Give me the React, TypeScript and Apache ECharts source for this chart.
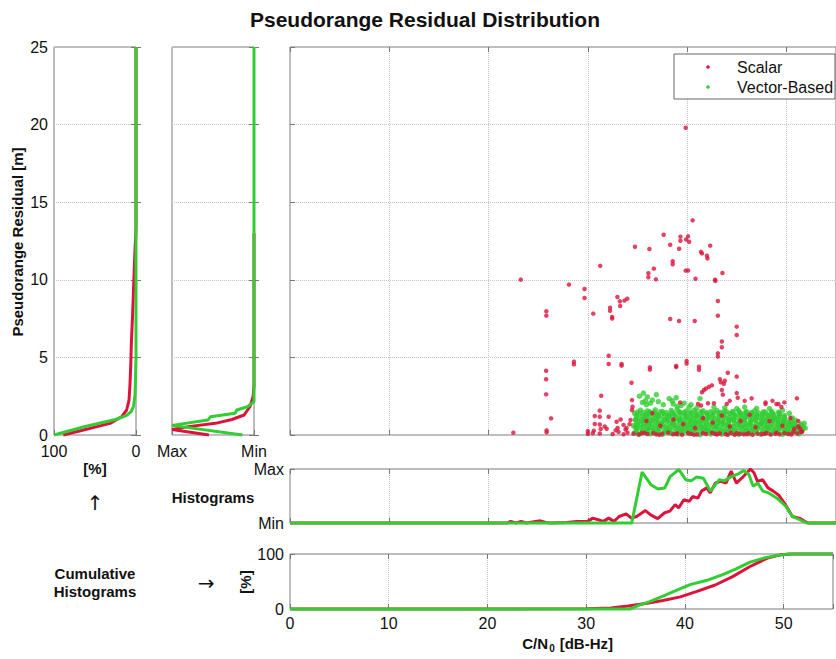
import React, { useEffect, useRef } from "react";
import * as echarts from "echarts";

const FONT = '"Liberation Sans", Arial, Helvetica, sans-serif';
const RED = "#dc143c";
const GREEN = "#32cd32";

// Left panel 1: cumulative histogram of residual [%] vs residual [m]
const cumResRed: number[][] = [[88.6,0],[64,0.32],[31.7,0.75],[17.5,1.18],[11.4,1.61],[8.5,2.25],[7.3,3.3],[6.4,4.5],[5.6,6.0],[4.1,7.8],[2.6,10.0],[1.2,12.0],[0.4,12.8],[0,13.3],[0,25]];
const cumResGreen: number[][] = [[100,0],[62,0.55],[25,1.0],[12,1.25],[6,1.5],[3,1.85],[1.2,2.6],[0.4,4.0],[0,5],[0,25]];

// Left panel 2: normalized histogram of residual vs residual [m]
const histResRed: number[][] = [[0.55,0],[1,0.35],[0.8,0.54],[0.47,0.75],[0.27,1.0],[0.12,1.29],[0.05,1.82],[0.01,2.5],[0,3.2],[0,13]];
const histResGreen: number[][] = [[0.14,0],[1,0.62],[0.56,0.97],[0.53,1.18],[0.23,1.4],[0.21,1.61],[0.08,1.82],[0,2.15],[0,25]];

// Bottom: normalized histogram vs C/N0
const histCnRed: number[][] = [[0,0],[21.87,0],[22.22,0.03],[22.75,0],[23.28,0.03],[23.81,0],[25.22,0.04],[25.75,0.01],[26.28,0],[27.87,0.01],[28.9,0.03],[29.98,0.03],[30.51,0.09],[31.04,0.06],[31.57,0.03],[32.1,0.09],[32.63,0.03],[33.16,0.12],[33.86,0.17],[34.39,0.09],[34.92,0.12],[35.8,0.23],[36.33,0.15],[37.04,0.08],[37.74,0.19],[38.27,0.22],[38.8,0.34],[39.15,0.28],[39.68,0.43],[40.21,0.4],[40.56,0.49],[41.09,0.46],[41.45,0.59],[41.98,0.65],[42.33,0.56],[42.86,0.74],[43.39,0.77],[43.92,0.74],[44.44,0.96],[44.97,0.74],[45.5,0.83],[46.03,0.93],[46.38,1.0],[46.74,0.93],[47.09,0.77],[47.62,0.8],[48.15,0.65],[48.68,0.59],[49.21,0.52],[49.91,0.34],[50.6,0.12],[51.3,0.09],[51.85,0.03],[52.2,0],[55,0]];
const histCnGreen: number[][] = [[0,0],[34.42,0],[35.47,0.944],[36.35,0.71],[37.06,0.63],[37.76,0.65],[38.29,0.86],[39.17,0.99],[39.88,0.8],[40.41,0.78],[40.94,0.85],[41.64,0.83],[42.35,0.59],[43.23,0.8],[43.76,0.78],[44.46,0.86],[45.17,0.91],[45.7,0.97],[46.23,0.9],[46.65,0.68],[47.11,0.74],[47.64,0.59],[48.17,0.56],[49.05,0.46],[49.93,0.31],[50.63,0.12],[51.34,0.06],[52.05,0],[55,0]];

// Bottom: cumulative histogram [%] vs C/N0
const cumCnRed: number[][] = [[0,0],[21.9,0],[30.02,0.6],[32.49,1.8],[34.25,5.5],[36.01,9.8],[37.78,15.3],[39.54,22],[41.3,32.5],[43.07,43.6],[44.83,58.9],[46.6,77.3],[48.36,92.6],[49.77,98.8],[50.83,100],[55,100]];
const cumCnGreen: number[][] = [[0,0],[34.43,0],[35.31,6.7],[36.37,12.9],[37.78,23.3],[39.19,34.4],[40.6,44.8],[42.36,52.8],[43.77,62],[45.19,73],[46.6,85.3],[48.0,92.6],[49.42,97.5],[50.48,100],[55,100]];

// Scatter: [C/N0, residual]
const scalarPts: number[][] = [
  [39.86,19.8],[40.56,13.83],[37.64,12.9],[39.33,12.78],[39.33,12.52],[39.9,12.6],[40.1,12.8],[40.2,12.45],[38.3,12.26],[39.2,12.0],[34.75,12.13],[36.2,11.98],[42.33,12.2],[41.4,11.8],[41.5,11.7],[42.0,11.55],[42.05,11.38],[31.25,10.9],[38.55,11.2],[38.55,11.0],[36.65,10.72],[36.1,10.42],[36.1,10.16],[36.86,10.03],[39.86,10.59],[40.1,10.6],[43.56,10.44],[40.85,10.07],[42.82,10.0],[42.85,9.93],[23.25,10.01],[28.1,9.69],[29.67,9.41],[29.67,8.83],[32.98,8.89],[33.23,8.61],[33.69,8.66],[33.97,8.78],[33.26,8.31],[32.24,8.2],[32.24,8.0],[32.45,7.6],[32.45,7.5],[25.82,7.97],[25.82,7.69],[30.55,7.82],[43.1,8.63],[43.1,7.69],[38.3,7.47],[39.19,7.35],[40.77,7.35],[45.0,6.98],[45.0,6.44],[43.5,6.02],[43.5,5.65],[43.1,5.26],[43.1,5.05],[32.1,5.11],[32.1,4.57],[28.6,4.72],[28.6,4.55],[33.4,4.57],[33.4,4.47],[38.9,4.45],[38.9,4.38],[39.95,4.77],[39.95,4.6],[36.25,4.36],[36.25,4.21],[41.2,4.4],[41.2,4.2],[25.8,4.14],[25.8,3.59],[25.8,2.62],[44.1,4.01],[45.0,3.76],[34.4,3.37],[43.3,3.59],[43.4,3.4],[26.3,1.07],[25.85,0.3],[25.85,0.17],[22.5,0.15],[31.35,2.53],[31.2,1.57],[30.7,1.22],[31.2,1.18],[30.7,0.71],[31.2,0.68],[32.1,1.18],[30.0,0.25],[30.0,0.08],[30.6,0.28],[30.5,0.12],[31.3,0.39],[31.7,0.55],[31.9,0.4],[33.0,0.45],[33.6,0.65],[33.8,0.35],[34.45,2.25],[34.5,1.82],[34.45,1.61],[34.3,0.97],
  [41.5,2.75],[41.7,2.9],[41.9,3.0],[42.2,3.1],[42.5,3.2],[43.5,2.9],[43.6,2.6],[43.7,3.3],[43.8,3.5],[45.0,2.7],[45.1,2.4],[46.5,2.36],[51.06,2.36],[47.9,2.0],[48.6,2.2],[49.0,2.0],[49.5,1.8],[49.8,2.1],[44.3,2.2],[42.7,2.05],[41.1,2.0],
  [35.9,0.9],[36.5,1.4],[37.3,0.6],[38.6,1.0],[39.3,2.1],[39.6,0.7],[40.8,0.45],[41.4,1.9],[41.6,1.1],[42.1,2.05],[42.6,0.8],[43.5,1.25],[44.0,2.0],[44.3,0.55],[45.4,0.9],[45.8,2.2],[46.3,1.3],[46.9,0.5],[47.9,2.1],[48.3,0.9],[49.2,2.0],[49.6,0.6],[50.4,1.1],[50.8,0.4],[51.2,0.9],[51.5,0.2],
  [34.6,0.1],[35.1,0.03],[35.7,0.14],[36.0,0.06],[36.6,0.12],[37.2,0.02],[37.5,0.09],[38.1,0.15],[38.6,0.05],[39.0,0.11],[39.5,0.02],[40.1,0.13],[40.4,0.07],[41.0,0.03],[41.6,0.12],[41.9,0.06],[42.5,0.15],[43.0,0.03],[43.3,0.1],[43.9,0.05],[44.4,0.14],[44.8,0.02],[45.3,0.08],[45.7,0.04],[46.2,0.12],[46.6,0.02],[47.1,0.09],[47.5,0.05],[48.0,0.13],[48.4,0.03],[48.9,0.08],[49.3,0.04],[49.8,0.12],[50.2,0.06],[50.7,0.2],[51.1,0.1],[51.4,0.4],[51.6,0.22],[44.1,0.01],[45.0,0.11],[46.0,0.05],[47.8,0.07],[49.0,0.15],[50.5,0.03],[51.2,0.55],[42.8,0.08],[40.7,0.01],[38.9,0.06],[36.9,0.04],[35.4,0.11],
  [31.2,0.1],[32.5,0.06],[33.1,0.2],[33.6,0.05],[34.0,0.15],[32.8,0.3],[33.9,0.45],[34.2,0.7],[33.3,1.0],[32.9,0.85]
];

const vectorPts: number[][] = [
  [34.7,0.12],[35.2,0.05],[35.8,0.18],[36.3,0.08],[36.9,0.15],[37.5,0.04],[38.0,0.2],[38.4,0.1],[39.1,0.06],[39.6,0.17],[40.2,0.09],[40.7,0.14],[41.3,0.03],[41.9,0.19],[42.4,0.07],[43.0,0.13],[43.5,0.05],[44.1,0.18],[44.6,0.1],[45.2,0.04],[45.7,0.16],[46.3,0.08],[46.8,0.2],[47.4,0.06],[47.9,0.14],[48.5,0.09],[49.0,0.17],[49.6,0.05],[50.1,0.12],[50.7,0.2],[51.3,0.08],
  [34.9,0.24],[35.5,0.2],[36.0,0.27],[36.6,0.22],[37.1,0.25],[37.7,0.19],[38.2,0.26],[38.8,0.21],[39.3,0.23],[39.9,0.28],[40.4,0.2],[41.0,0.25],[41.5,0.22],[42.1,0.27],[42.6,0.19],[43.2,0.24],[43.7,0.21],[44.3,0.26],[44.8,0.23],[45.4,0.2],[45.9,0.28],[46.5,0.22],[47.0,0.25],[47.6,0.19],[48.1,0.27],[48.7,0.23],[49.2,0.21],[49.8,0.26],[50.3,0.2],[50.9,0.24],[51.5,0.22],
  [34.9,0.38],[35.5,0.3],[36.1,0.42],[36.6,0.33],[37.2,0.4],[37.8,0.28],[38.3,0.36],[38.9,0.44],[39.4,0.31],[40.0,0.39],[40.5,0.27],[41.1,0.43],[41.6,0.35],[42.2,0.3],[42.8,0.41],[43.3,0.34],[43.8,0.26],[44.4,0.4],[44.9,0.32],[45.5,0.44],[46.0,0.29],[46.6,0.37],[47.1,0.42],[47.7,0.3],[48.2,0.38],[48.8,0.27],[49.3,0.43],[49.9,0.34],[50.4,0.4],[51.0,0.3],[51.6,0.37],
  [34.8,0.5],[35.3,0.47],[35.9,0.53],[36.4,0.49],[37.0,0.46],[37.5,0.52],[38.1,0.48],[38.6,0.54],[39.2,0.45],[39.7,0.51],[40.3,0.49],[40.8,0.47],[41.4,0.53],[41.9,0.46],[42.5,0.5],[43.0,0.52],[43.6,0.48],[44.1,0.45],[44.7,0.54],[45.2,0.49],[45.8,0.51],[46.3,0.46],[46.9,0.53],[47.4,0.48],[48.0,0.5],[48.5,0.47],[49.1,0.52],[49.6,0.45],[50.2,0.49],[50.7,0.51],[51.3,0.47],[51.7,0.5],
  [35.0,0.62],[35.6,0.55],[36.2,0.68],[36.8,0.58],[37.3,0.65],[37.9,0.52],[38.5,0.7],[39.0,0.6],[39.5,0.54],[40.1,0.66],[40.6,0.57],[41.2,0.69],[41.8,0.53],[42.3,0.63],[42.9,0.56],[43.4,0.67],[44.0,0.6],[44.5,0.52],[45.1,0.68],[45.6,0.59],[46.2,0.64],[46.7,0.55],[47.3,0.69],[47.8,0.58],[48.4,0.63],[48.9,0.54],[49.5,0.66],[50.0,0.57],[50.6,0.62],[51.2,0.53],
  [34.9,0.74],[35.4,0.71],[36.0,0.77],[36.5,0.72],[37.1,0.75],[37.6,0.7],[38.2,0.76],[38.7,0.73],[39.3,0.78],[39.8,0.71],[40.4,0.74],[40.9,0.77],[41.5,0.7],[42.0,0.75],[42.6,0.72],[43.1,0.76],[43.7,0.73],[44.2,0.71],[44.8,0.78],[45.3,0.74],[45.9,0.7],[46.4,0.76],[47.0,0.72],[47.5,0.75],[48.1,0.73],[48.6,0.77],[49.2,0.71],[49.7,0.74],[50.3,0.7],[50.9,0.66],[51.4,0.6],
  [35.1,0.86],[35.7,0.8],[36.3,0.92],[36.9,0.83],[37.4,0.78],[38.0,0.9],[38.6,0.84],[39.2,0.95],[39.7,0.8],[40.3,0.88],[40.8,0.79],[41.4,0.93],[41.9,0.85],[42.5,0.78],[43.1,0.91],[43.6,0.82],[44.2,0.87],[44.7,0.94],[45.3,0.8],[45.8,0.89],[46.4,0.83],[46.9,0.92],[47.5,0.79],[48.0,0.86],[48.6,0.9],[49.1,0.8],[49.7,0.85],[50.2,0.78],[50.8,0.72],
  [34.8,0.98],[35.4,0.95],[35.9,1.0],[36.5,0.96],[37.0,0.99],[37.6,0.94],[38.1,1.01],[38.7,0.97],[39.2,0.95],[39.8,1.0],[40.3,0.96],[40.9,0.98],[41.4,0.94],[42.0,1.01],[42.5,0.97],[43.1,0.95],[43.6,0.99],[44.2,0.96],[44.7,1.0],[45.3,0.94],[45.8,0.98],[46.4,0.96],[46.9,1.01],[47.5,0.95],[48.0,0.97],[48.6,0.99],[49.1,0.94],[49.7,0.9],[50.4,0.88],
  [35.0,1.12],[35.6,1.05],[36.1,1.18],[36.7,1.08],[37.2,1.15],[37.8,1.02],[38.3,1.2],[38.9,1.1],[39.4,1.04],[40.0,1.16],[40.6,1.07],[41.1,1.19],[41.7,1.03],[42.2,1.13],[42.8,1.06],[43.3,1.17],[43.9,1.1],[44.4,1.02],[45.0,1.14],[45.5,1.08],[46.1,1.19],[46.6,1.05],[47.2,1.12],[47.7,1.04],[48.3,1.16],[48.8,1.09],[49.4,1.02],[49.9,0.98],
  [34.9,1.24],[35.5,1.21],[36.0,1.27],[36.6,1.22],[37.1,1.25],[37.7,1.2],[38.2,1.26],[38.8,1.23],[39.3,1.28],[39.9,1.21],[40.4,1.24],[41.0,1.27],[41.5,1.2],[42.1,1.25],[42.6,1.22],[43.2,1.26],[43.7,1.23],[44.3,1.21],[44.8,1.27],[45.4,1.24],[45.9,1.2],[46.5,1.26],[47.0,1.22],[47.6,1.25],[48.1,1.23],[48.7,1.2],[49.2,1.18],[49.8,1.15],
  [35.2,1.38],[35.8,1.3],[36.4,1.42],[37.0,1.33],[37.6,1.4],[38.1,1.28],[38.7,1.36],[39.3,1.45],[39.8,1.31],[40.4,1.39],[40.9,1.27],[41.5,1.43],[42.0,1.35],[42.6,1.3],[43.2,1.41],[43.7,1.34],[44.3,1.38],[44.8,1.29],[45.4,1.4],[45.9,1.33],[46.5,1.37],[47.0,1.3],[47.6,1.36],[48.2,1.28],[48.7,1.34],[49.3,1.3],[49.8,1.25],
  [35.0,1.48],[35.6,1.45],[36.2,1.5],[36.7,1.46],[37.3,1.49],[37.9,1.44],[38.5,1.47],[39.2,1.5],[39.7,1.45],[40.3,1.48],[40.9,1.46],[41.4,1.5],[42.0,1.44],[42.7,1.47],[43.4,1.45],[44.0,1.49],[44.6,1.46],[45.3,1.44],[45.9,1.47],[46.5,1.45],[47.2,1.43],[47.9,1.46],[48.6,1.42],[49.3,1.38],
  [35.3,1.6],[36.0,1.55],[36.8,1.62],[37.5,1.52],[38.4,1.58],[39.0,1.65],[39.9,1.54],[40.7,1.6],[41.6,1.56],[42.4,1.5],[43.0,1.58],[43.8,1.54],[44.6,1.52],[45.2,1.57],[46.0,1.5],[46.8,1.55],[47.7,1.5],[48.5,1.52],[49.2,1.48],
  [35.2,2.5],[35.6,2.7],[36.0,2.45],[36.9,2.6],[35.5,2.1],[35.8,2.2],[36.3,2.05],[35.9,1.95],[36.5,2.25],[37.1,2.15],[37.6,1.95],[38.2,2.35],[38.5,2.2],[38.9,2.4],[38.6,2.0],[39.0,1.85],[39.4,1.9],[39.7,2.05],[40.2,1.8],[41.3,2.35],[40.4,1.95],[41.0,1.75],[42.7,1.8],[43.8,1.75],[45.0,1.7],[45.8,1.8],[47.0,1.72],[48.3,1.7],[49.6,1.6],[50.3,1.4],[50.6,1.1],[50.9,0.95],[51.2,0.55],[51.5,0.7],[51.8,0.75],[51.4,0.3],[51.9,0.45],[50.5,0.85],[34.6,0.6],[34.8,1.0],[34.7,1.4]
];

const resTicks = { min: 0, max: 25, interval: 5 };
const cnTicks = { min: 0, max: 55, interval: 10 };

export default function App() {
  const ref = useRef<HTMLDivElement>(null);
  useEffect(() => {
    if (!ref.current) return;
    const chart = echarts.init(ref.current, null, { renderer: "svg" });
    const tick = { show: true, inside: true, length: 5, lineStyle: { color: "#777", width: 1 } };
    const label = { color: "#111", fontFamily: FONT, fontSize: 16, margin: 6 };
    const dotted = { show: true, lineStyle: { type: "dotted" as const, color: "#c4c4c4", width: 1 } };
    const noLine = { show: false };
    const gridBox = { show: true, borderColor: "#7a7a7a", borderWidth: 1, backgroundColor: "transparent" };
    const lineSeries = (name: string, data: number[][], color: string, xi: number, yi: number, z: number) => ({
      name, type: "line", data, xAxisIndex: xi, yAxisIndex: yi, showSymbol: false, symbol: "none",
      clip: false, silent: true, z, lineStyle: { color, width: 3 }, itemStyle: { color },
    });
    const t = (text: string, x: number, y: number, font: string, extra: any = {}) => ({
      type: "text", x, y, z: 100, ...extra,
      style: { text, font, fill: "#111", align: "center", verticalAlign: "middle", textAlign: "center", textVerticalAlign: "middle", ...(extra.style || {}) },
    });
    const B15 = `bold 15px ${FONT}`;
    const ARROW = `20px "DejaVu Sans", sans-serif`;
    chart.setOption({
      animation: false,
      backgroundColor: "#fff",
      grid: [
        { left: 54, top: 47, width: 82, height: 388, ...gridBox },
        { left: 172, top: 47, width: 82, height: 388, ...gridBox },
        { left: 290, top: 47, width: 553, height: 388, ...gridBox },
        { left: 290, top: 469, width: 553, height: 54, ...gridBox },
        { left: 290, top: 554, width: 553, height: 55, ...gridBox },
      ],
      xAxis: [
        { type: "value", gridIndex: 0, min: 0, max: 100, interval: 100, inverse: true, axisLine: noLine, axisTick: tick, axisLabel: { ...label, margin: 8 }, splitLine: noLine },
        { type: "value", gridIndex: 1, min: 0, max: 1, interval: 1, inverse: true, axisLine: noLine, axisTick: tick, axisLabel: { ...label, margin: 8, formatter: (v: number) => (v === 1 ? "Max" : "Min") }, splitLine: noLine },
        { type: "value", gridIndex: 2, ...cnTicks, axisLine: noLine, axisTick: tick, axisLabel: { show: false }, splitLine: dotted },
        { type: "value", gridIndex: 3, ...cnTicks, axisLine: noLine, axisTick: tick, axisLabel: { show: false }, splitLine: dotted },
        { type: "value", gridIndex: 4, ...cnTicks, axisLine: noLine, axisTick: tick, axisLabel: { ...label, formatter: (v: number) => (v > 52 ? "" : String(v)) }, splitLine: dotted },
        { type: "value", gridIndex: 2, position: "top", ...cnTicks, axisLine: noLine, axisTick: tick, axisLabel: { show: false }, splitLine: noLine },
        { type: "value", gridIndex: 3, position: "top", ...cnTicks, axisLine: noLine, axisTick: tick, axisLabel: { show: false }, splitLine: noLine },
        { type: "value", gridIndex: 4, position: "top", ...cnTicks, axisLine: noLine, axisTick: tick, axisLabel: { show: false }, splitLine: noLine },
      ],
      yAxis: [
        { type: "value", gridIndex: 0, ...resTicks, axisLine: noLine, axisTick: tick, axisLabel: label, splitLine: dotted },
        { type: "value", gridIndex: 1, ...resTicks, axisLine: noLine, axisTick: tick, axisLabel: { show: false }, splitLine: dotted },
        { type: "value", gridIndex: 2, ...resTicks, axisLine: noLine, axisTick: tick, axisLabel: { show: false }, splitLine: dotted },
        { type: "value", gridIndex: 3, min: 0, max: 1, interval: 1, axisLine: noLine, axisTick: tick, axisLabel: { ...label, formatter: (v: number) => (v === 1 ? "Max" : "Min") }, splitLine: noLine },
        { type: "value", gridIndex: 4, min: 0, max: 100, interval: 100, axisLine: noLine, axisTick: tick, axisLabel: label, splitLine: noLine },
        { type: "value", gridIndex: 0, position: "right", ...resTicks, axisLine: noLine, axisTick: tick, axisLabel: { show: false }, splitLine: noLine },
        { type: "value", gridIndex: 1, position: "right", ...resTicks, axisLine: noLine, axisTick: tick, axisLabel: { show: false }, splitLine: noLine },
      ],
      series: [
        lineSeries("Scalar cum res", cumResRed, RED, 0, 0, 3),
        lineSeries("Vector cum res", cumResGreen, GREEN, 0, 0, 4),
        lineSeries("Scalar hist res", histResRed, RED, 1, 1, 3),
        lineSeries("Vector hist res", histResGreen, GREEN, 1, 1, 4),
        { name: "Vector-Based", type: "scatter", data: vectorPts, xAxisIndex: 2, yAxisIndex: 2, symbol: "circle", symbolSize: 5.5, silent: true, z: 3, itemStyle: { color: GREEN } },
        { name: "Scalar", type: "scatter", data: scalarPts, xAxisIndex: 2, yAxisIndex: 2, symbol: "circle", symbolSize: 4.5, silent: true, z: 4, itemStyle: { color: RED } },
        lineSeries("Scalar hist cn0", histCnRed, RED, 3, 3, 3),
        lineSeries("Vector hist cn0", histCnGreen, GREEN, 3, 3, 4),
        lineSeries("Scalar cum cn0", cumCnRed, RED, 4, 4, 3),
        lineSeries("Vector cum cn0", cumCnGreen, GREEN, 4, 4, 4),
      ],
      graphic: {
        elements: [
          t("Pseudorange Residual Distribution", 425, 19, `bold 21px ${FONT}`),
          t("Pseudorange Residual [m]", 17, 242, B15, { rotation: Math.PI / 2 }),
          t("[%]", 95, 468, B15),
          t("\u2191", 95, 503, ARROW),
          t("Histograms", 213, 497, B15),
          t("Cumulative", 95, 573, B15),
          t("Histograms", 95, 591, B15),
          t("\u2192", 206, 583, ARROW),
          t("[%]", 245, 582, B15, { rotation: Math.PI / 2 }),
          t("C/N", 548, 643, B15, { style: { align: "right", textAlign: "right" } }),
          t("0", 552, 648, `bold 10px ${FONT}`),
          t(" [dB-Hz]", 555.5, 643, B15, { style: { align: "left", textAlign: "left" } }),
          { type: "rect", z: 100, shape: { x: 674, y: 54, width: 161, height: 45 }, style: { fill: "#fff", stroke: "#666", lineWidth: 1 } },
          { type: "circle", z: 101, shape: { cx: 708, cy: 67, r: 1.8 }, style: { fill: RED } },
          { type: "circle", z: 101, shape: { cx: 708, cy: 87, r: 1.8 }, style: { fill: GREEN } },
          t("Scalar", 737, 67, `16px ${FONT}`, { z: 101, style: { align: "left", textAlign: "left" } }),
          t("Vector-Based", 737, 87, `16px ${FONT}`, { z: 101, style: { align: "left", textAlign: "left" } }),
        ],
      },
    });
    return () => chart.dispose();
  }, []);
  return <div ref={ref} style={{ position: "absolute", left: 0, top: 0, width: 836, height: 659 }} />;
}
